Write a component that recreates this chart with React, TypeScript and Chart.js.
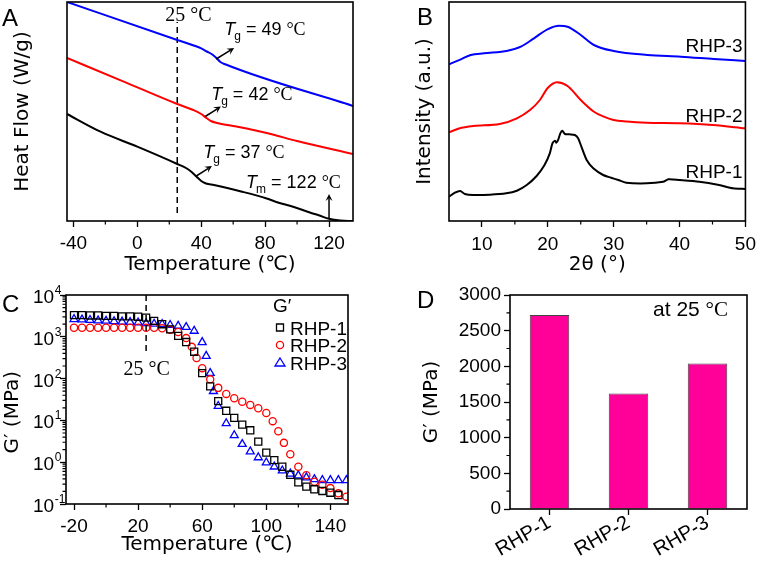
import { useEffect, useRef } from "react";
import { Chart, registerables } from "chart.js";

Chart.register(...registerables);

const SANS = '"Liberation Sans", Arial, sans-serif';
const TITLE = '"DejaVu Sans", sans-serif';
const SERIF = '"Liberation Serif", "Times New Roman", serif';

// ---------------- Panel A : DSC heat flow ----------------
const dscTempRHP3 = [-44, 25, 40, 43.5, 46.5, 49, 52, 55, 135];
const dscFlowRHP3 = [21.9, 18.1, 17.26, 16.95, 16.7, 16.37, 15.9, 15.67, 11.5];
const dscTempRHP2 = [-44, -10, 25, 35, 40, 43, 46, 50, 60, 81, 100, 135];
const dscFlowRHP2 = [16.3, 14.04, 11.7, 11.1, 10.7, 10.33, 10.0, 9.8, 9.5, 8.8, 8.0, 6.7];
const dscTempRHP1 = [-44, -23, 0, 25, 31, 34, 37, 40, 43, 48, 65, 81, 88, 98, 108, 114, 120, 127, 135];
const dscFlowRHP1 = [10.7, 8.93, 7.43, 5.7, 5.25, 4.9, 4.45, 4.0, 3.75, 3.6, 2.95, 2.25, 1.85, 1.4, 0.85, 0.55, 0.22, 0.05, 0];
const dscMarkerT = [25, 25];
const dscMarkerY = [0.8, 19.9];
const dscTicksMinor = [-20, 20, 60, 100];

// ---------------- Panel B : XRD ----------------
const xrdAngle3 = [5, 6.8, 8.3, 10.3, 13.9, 15.9, 17.9, 19.95, 21.7, 23, 25, 27, 30, 35.1, 40.2, 45.2, 50];
const xrdInt3 = [156.7, 161.7, 166, 167.7, 170.3, 174.3, 182.7, 191.7, 195.3, 194.3, 186, 176, 170, 166, 164.3, 162, 160];
const xrdAngle2 = [5, 6.5, 8.7, 12.7, 15.3, 17.3, 18.8, 19.95, 21.4, 23, 25, 27, 28.5, 30, 32, 35, 40, 45, 50];
const xrdInt2 = [88.7, 92.5, 95, 97, 102.7, 111, 121, 132.7, 138.7, 135, 121, 109.3, 104.3, 101, 99.5, 98.3, 97.7, 96, 92.7];
const xrdAngle1 = [5, 5.9, 6.7, 7.4, 8.7, 11.2, 13.7, 15.3, 16.8, 18.3, 19.5, 20.3, 20.7, 21.1, 21.3, 21.6, 21.9, 22.2, 22.6, 23.3, 24.1, 24.6, 25.1, 25.9, 26.9, 28.4, 29.6, 30.7, 31.9, 35, 37.5, 38.3, 40, 43, 46, 48.1, 50];
const xrdInt1 = [24.3, 28.3, 30, 27, 26, 26.3, 27.7, 30.3, 36, 45, 56, 67.7, 77.7, 80.3, 78.3, 81.7, 87.7, 90.3, 87, 86.7, 86, 82.7, 74.3, 61, 52.7, 46, 43.3, 41, 38.3, 37.7, 39.3, 41.7, 41, 39.3, 36, 32.7, 32];
const xrdLabels = ["RHP-3", "RHP-2", "RHP-1"];
const xrdLabelY = [169.3, 99.3, 43];
const xrdTicksMinor = [15, 25, 35, 45];

// ---------------- Panel C : G' vs temperature ----------------
const cTemp1 = [-20, -15, -10, -5, 0, 5, 10, 15, 20, 25, 30, 35, 40, 45, 50, 55, 60, 65, 70, 75, 80, 85, 90, 95, 100, 105, 110, 115, 120, 125, 130, 135, 140, 145];
const cG1 = [3310, 3310, 3240, 3240, 3160, 3160, 3090, 3090, 3020, 2880, 2400, 2000, 1510, 1050, 750, 440, 135, 65, 29, 17, 11.5, 7.9, 5.8, 3.1, 1.7, 1.12, 0.78, 0.5, 0.33, 0.26, 0.225, 0.205, 0.186, 0.164];
const cTemp2 = [-20, -15, -10, -5, 0, 5, 10, 15, 20, 25, 30, 35, 40, 45, 50, 53.5, 56.5, 60, 65, 70, 75, 80, 85, 90, 95, 100, 104, 107.5, 111, 115, 120, 125, 130, 135, 140, 145, 150];
const cG2 = [1650, 1650, 1650, 1650, 1650, 1650, 1650, 1650, 1650, 1650, 1650, 1600, 1480, 1300, 930, 575, 310, 178, 96, 60, 43, 34, 28, 23.5, 19.6, 15, 9.6, 5.5, 2.9, 1.55, 0.78, 0.49, 0.34, 0.29, 0.24, 0.18, 0.15];
const cTemp3 = [-20, -15, -10, -5, 0, 5, 10, 15, 20, 25, 30, 35, 40, 45, 50, 55, 60, 62.5, 65, 67, 70, 75, 80, 85, 90, 95, 100, 105, 110, 115, 120, 125, 130, 135, 140, 145, 150];
const cG3 = [2630, 2570, 2510, 2450, 2400, 2340, 2290, 2240, 2190, 2090, 2040, 2000, 1900, 1820, 1700, 1380, 740, 347, 135, 50, 22, 8.5, 4.4, 2.7, 1.8, 1.3, 0.98, 0.78, 0.63, 0.53, 0.48, 0.43, 0.39, 0.37, 0.37, 0.37, 0.37];
const cSeries = ["RHP-1", "RHP-2", "RHP-3"];
const cMarkerT = [25, 25];
const cMarkerG = [10000, 410];
const cDecades = [-1, 0, 1, 2, 3, 4];
const cTicksMinor = [0, 40, 80, 120];

// ---------------- Panel D : G' at 25 °C ----------------
const dLabels = ["RHP-1", "RHP-2", "RHP-3"];
const dG = [2720, 1620, 2040];
const dTicksMinor = [250, 750, 1250, 1750, 2250, 2750];

// ---------------- helpers ----------------
const zip = (xs: number[], ys: number[]) => xs.map((x, i) => ({ x, y: ys[i] }));
const tickFont = { family: SANS, size: 19 };
const titleFont = { family: TITLE, size: 20 };

function baseOptions(pad: any) {
  return {
    animation: false,
    responsive: false,
    maintainAspectRatio: false,
    events: [],
    layout: { padding: pad, autoPadding: false },
    plugins: { legend: { display: false }, tooltip: { enabled: false } },
  };
}

function tickGrid(isMajor: (v: number) => boolean) {
  return {
    display: true,
    drawOnChartArea: false,
    drawTicks: true,
    tickLength: 6,
    tickWidth: 1.3,
    tickColor: (c: any) => (c.tick && isMajor(c.tick.value) ? "#000" : "rgba(0,0,0,0)"),
  };
}

const framePlugin = {
  id: "frame",
  afterDraw(chart: any) {
    const { ctx, chartArea: a } = chart;
    ctx.save();
    ctx.strokeStyle = "#000";
    ctx.lineWidth = 1.6;
    ctx.strokeRect(a.left, a.top, a.right - a.left, a.bottom - a.top);
    ctx.restore();
  },
};

function minorTicks(chart: any, axisId: string, values: number[], len = 3.5) {
  const s = chart.scales[axisId];
  const a = chart.chartArea;
  const ctx = chart.ctx;
  ctx.save();
  ctx.strokeStyle = "#000";
  ctx.lineWidth = 1.2;
  ctx.beginPath();
  for (const v of values) {
    const p = s.getPixelForValue(v);
    if (s.isHorizontal()) {
      ctx.moveTo(p, a.bottom);
      ctx.lineTo(p, a.bottom + len);
    } else {
      ctx.moveTo(a.left, p);
      ctx.lineTo(a.left - len, p);
    }
  }
  ctx.stroke();
  ctx.restore();
}

function letter(ctx: any, s: string, x: number, y: number) {
  ctx.save();
  ctx.fillStyle = "#000";
  ctx.font = `24px ${SANS}`;
  ctx.textAlign = "left";
  ctx.textBaseline = "alphabetic";
  ctx.fillText(s, x, y);
  ctx.restore();
}

function text(ctx: any, s: string, x: number, y: number, font: string, align = "left") {
  ctx.save();
  ctx.fillStyle = "#000";
  ctx.font = font;
  ctx.textAlign = align;
  ctx.textBaseline = "alphabetic";
  ctx.fillText(s, x, y);
  ctx.restore();
}

// "25 °C" style label: sans number + serif degree sign
function degLabel(ctx: any, num: string, x: number, y: number, size: number, align: "left" | "right" | "center") {
  ctx.save();
  ctx.fillStyle = "#000";
  ctx.textBaseline = "alphabetic";
  ctx.textAlign = "left";
  ctx.font = `${size}px ${SERIF}`;
  const w2 = ctx.measureText("°C").width;
  ctx.font = `${size}px ${SANS}`;
  const w1 = ctx.measureText(num).width;
  let x0 = x;
  if (align === "right") x0 = x - w1 - w2;
  if (align === "center") x0 = x - (w1 + w2) / 2;
  ctx.fillText(num, x0, y);
  ctx.font = `${size}px ${SERIF}`;
  ctx.fillText("°C", x0 + w1, y);
  ctx.restore();
}

function serifDeg(ctx: any, num: string, x: number, y: number, size: number, align: "left" | "center") {
  ctx.save();
  ctx.fillStyle = "#000";
  ctx.textBaseline = "alphabetic";
  ctx.font = `${size}px ${SERIF}`;
  ctx.textAlign = align;
  ctx.fillText(num + "°C", x, y);
  ctx.restore();
}

function tLabel(ctx: any, x: number, y: number, sub: string, rest: string) {
  ctx.save();
  ctx.fillStyle = "#000";
  ctx.textBaseline = "alphabetic";
  ctx.textAlign = "left";
  ctx.font = `italic 18px ${SANS}`;
  ctx.fillText("T", x, y);
  let cx = x + ctx.measureText("T").width - 1;
  ctx.font = `12px ${SANS}`;
  ctx.fillText(sub, cx, y + 5);
  cx += ctx.measureText(sub).width + 5;
  ctx.font = `18px ${SANS}`;
  ctx.fillText(rest, cx, y);
  cx += ctx.measureText(rest).width;
  ctx.font = `18px ${SERIF}`;
  ctx.fillText("°C", cx, y);
  ctx.restore();
}

function arrow(ctx: any, x1: number, y1: number, x2: number, y2: number) {
  const ang = Math.atan2(y2 - y1, x2 - x1);
  const c = Math.cos(ang), s = Math.sin(ang);
  const h = 7, w = 3.5;
  ctx.save();
  ctx.strokeStyle = "#000";
  ctx.fillStyle = "#000";
  ctx.lineWidth = 1.5;
  ctx.beginPath();
  ctx.moveTo(x1, y1);
  ctx.lineTo(x2 - h * 0.6 * c, y2 - h * 0.6 * s);
  ctx.stroke();
  ctx.beginPath();
  ctx.moveTo(x2, y2);
  ctx.lineTo(x2 - h * c + w * s, y2 - h * s - w * c);
  ctx.lineTo(x2 - h * 0.6 * c, y2 - h * 0.6 * s);
  ctx.lineTo(x2 - h * c - w * s, y2 - h * s + w * c);
  ctx.closePath();
  ctx.fill();
  ctx.restore();
}

function lineDs(xs: number[], ys: number[], color: string) {
  return {
    data: zip(xs, ys),
    borderColor: color,
    backgroundColor: color,
    borderWidth: 2,
    pointRadius: 0,
    cubicInterpolationMode: "monotone",
    fill: false,
  };
}

// ---------------- configs ----------------
function makeA(): any {
  const annot = {
    id: "annotA",
    afterDraw(chart: any) {
      const { ctx } = chart;
      const X = (v: number) => chart.scales.x.getPixelForValue(v);
      const Y = (v: number) => chart.scales.y.getPixelForValue(v);
      minorTicks(chart, "x", dscTicksMinor);
      serifDeg(ctx, "25 ", X(17.5), Y(20.0), 20, "left");
      tLabel(ctx, X(54.4), Y(18.6), "g", "= 49 ");
      arrow(ctx, X(49.4), Y(16.2), X(60.6), Y(17.3));
      tLabel(ctx, X(46.25), Y(12.1), "g", "= 42 ");
      arrow(ctx, X(42.5), Y(10.45), X(52.3), Y(11.45));
      tLabel(ctx, X(41.25), Y(6.3), "g", "= 37 ");
      arrow(ctx, X(36.9), Y(4.5), X(46.7), Y(5.5));
      tLabel(ctx, X(68.1), Y(3.3), "m", "= 122 ");
      arrow(ctx, X(120), Y(0.25), X(120), Y(2.7));
      letter(ctx, "A", 2, 26);
    },
  };
  return {
    type: "line",
    data: {
      datasets: [
        lineDs(dscTempRHP3, dscFlowRHP3, "#0000ff"),
        lineDs(dscTempRHP2, dscFlowRHP2, "#ff0000"),
        lineDs(dscTempRHP1, dscFlowRHP1, "#000000"),
        { data: zip(dscMarkerT, dscMarkerY), borderColor: "#000", borderWidth: 1.5, borderDash: [6, 4], pointRadius: 0 },
      ],
    },
    options: {
      ...baseOptions({ left: 0, right: 28, top: 2, bottom: 0 }),
      scales: {
        x: {
          type: "linear",
          min: -44,
          max: 135,
          afterFit: (s: any) => { s.height = 59; },
          ticks: {
            stepSize: 20, includeBounds: false, autoSkip: false, maxRotation: 0, padding: 5,
            font: tickFont, color: "#000",
            callback: (v: any) => (Math.round(v) % 40 === 0 ? String(v) : ""),
          },
          grid: tickGrid((v) => Math.round(v) % 40 === 0),
          border: { display: false },
          title: { display: true, text: "Temperature (℃)", font: titleFont, color: "#000", padding: { top: 0, bottom: 3 } },
        },
        y: {
          type: "linear",
          min: 0,
          max: 21.9,
          afterFit: (s: any) => { s.width = 67; },
          ticks: { display: false },
          grid: { display: false },
          border: { display: false },
          title: { display: true, text: "Heat Flow (W/g)", font: titleFont, color: "#000", padding: { top: 11, bottom: 0 } },
        },
      },
    },
    plugins: [framePlugin, annot],
  };
}

function makeB(): any {
  const annot = {
    id: "annotB",
    afterDraw(chart: any) {
      const { ctx } = chart;
      const X = (v: number) => chart.scales.x.getPixelForValue(v);
      const Y = (v: number) => chart.scales.y.getPixelForValue(v);
      minorTicks(chart, "x", xrdTicksMinor);
      xrdLabels.forEach((l, i) => text(ctx, l, X(49.55), Y(xrdLabelY[i]), `19px ${SANS}`, "right"));
      letter(ctx, "B", 36, 25);
    },
  };
  return {
    type: "line",
    data: {
      datasets: [
        lineDs(xrdAngle3, xrdInt3, "#0000ff"),
        lineDs(xrdAngle2, xrdInt2, "#ff0000"),
        { ...lineDs(xrdAngle1, xrdInt1, "#000000"), cubicInterpolationMode: "default", tension: 0.25 },
      ],
    },
    options: {
      ...baseOptions({ left: 0, right: 14, top: 2, bottom: 0 }),
      scales: {
        x: {
          type: "linear",
          min: 5,
          max: 50,
          afterFit: (s: any) => { s.height = 59; },
          ticks: {
            stepSize: 5, autoSkip: false, maxRotation: 0, padding: 6,
            font: tickFont, color: "#000",
            callback: (v: any) => (Math.round(v) % 10 === 0 ? String(v) : ""),
          },
          grid: tickGrid((v) => Math.round(v) % 10 === 0),
          border: { display: false },
          title: { display: true, text: "2θ (°)", font: titleFont, color: "#000", padding: { top: 0, bottom: 3 } },
        },
        y: {
          type: "linear",
          min: 0,
          max: 219,
          afterFit: (s: any) => { s.width = 68; },
          ticks: { display: false },
          grid: { display: false },
          border: { display: false },
          title: { display: true, text: "Intensity (a.u.)", font: titleFont, color: "#000", padding: { top: 32, bottom: 0 } },
        },
      },
    },
    plugins: [framePlugin, annot],
  };
}

function isDecade(v: number) {
  const l = Math.log10(v);
  return Math.abs(l - Math.round(l)) < 1e-6;
}

function makeC(): any {
  const minors: number[] = [];
  for (let e = -1; e < 4; e++) for (let m = 2; m <= 9; m++) minors.push(m * Math.pow(10, e));
  const annot = {
    id: "annotC",
    afterDraw(chart: any) {
      const { ctx, chartArea: a } = chart;
      const X = (v: number) => chart.scales.x.getPixelForValue(v);
      const Y = (v: number) => chart.scales.y.getPixelForValue(v);
      minorTicks(chart, "x", cTicksMinor);
      minorTicks(chart, "y", minors, 3.5);
      // decade tick labels with superscripts
      ctx.save();
      ctx.fillStyle = "#000";
      ctx.textBaseline = "alphabetic";
      ctx.textAlign = "left";
      for (const e of cDecades) {
        const py = Y(Math.pow(10, e));
        const x0 = a.left - 33;
        ctx.font = `19px ${SANS}`;
        ctx.fillText("10", x0, py + 8);
        const w = ctx.measureText("10").width;
        ctx.font = `12px ${SANS}`;
        ctx.fillText(String(e), x0 + w + 0.5, py - 1);
      }
      ctx.restore();
      serifDeg(ctx, "25 ", X(25.3), Y(122), 20, "center");
      // legend
      const lx = a.right - 68;
      text(ctx, "G′", lx - 7, a.top + 17, `19px ${SANS}`);
      const rows = [a.top + 32.5, a.top + 50, a.top + 67.5];
      const colors = ["#000", "#ff0000", "#0000ff"];
      ctx.save();
      ctx.lineWidth = 1.3;
      rows.forEach((ry, i) => {
        ctx.strokeStyle = colors[i];
        ctx.beginPath();
        if (i === 0) ctx.rect(lx - 3.5, ry - 3.5, 7, 7);
        if (i === 1) ctx.arc(lx, ry, 3.6, 0, Math.PI * 2);
        if (i === 2) {
          ctx.moveTo(lx, ry - 4.5);
          ctx.lineTo(lx + 5, ry + 3.5);
          ctx.lineTo(lx - 5, ry + 3.5);
          ctx.closePath();
        }
        ctx.stroke();
      });
      ctx.restore();
      cSeries.forEach((s, i) => text(ctx, s, lx + 10, rows[i] + 7, `19px ${SANS}`));
      letter(ctx, "C", 2, 31.5);
    },
  };
  const pts = (xs: number[], ys: number[], color: string, style: string, r: number) => ({
    data: zip(xs, ys),
    showLine: false,
    pointStyle: style,
    pointRadius: r,
    pointBorderColor: color,
    pointBackgroundColor: "rgba(0,0,0,0)",
    pointBorderWidth: 1.3,
    borderColor: color,
  });
  return {
    type: "scatter",
    data: {
      datasets: [
        { data: zip(cMarkerT, cMarkerG), showLine: true, borderColor: "#000", borderWidth: 1.5, borderDash: [6, 4], pointRadius: 0 },
        pts(cTemp1, cG1, "#000000", "rect", 5),
        pts(cTemp2, cG2, "#ff0000", "circle", 3.6),
        pts(cTemp3, cG3, "#0000ff", "triangle", 4.6),
      ],
    },
    options: {
      ...baseOptions({ left: 0, right: 33, top: 15, bottom: 0 }),
      scales: {
        x: {
          type: "linear",
          min: -25,
          max: 151,
          afterFit: (s: any) => { s.height = 59; },
          ticks: {
            stepSize: 20, includeBounds: false, autoSkip: false, maxRotation: 0, padding: 5,
            font: tickFont, color: "#000",
            callback: (v: any) => ((Math.round(v) + 20) % 40 === 0 ? String(v) : ""),
          },
          grid: tickGrid((v) => (Math.round(v) + 20) % 40 === 0),
          border: { display: false },
          title: { display: true, text: "Temperature (℃)", font: titleFont, color: "#000", padding: { top: 0, bottom: 6 } },
        },
        y: {
          type: "logarithmic",
          min: 0.1,
          max: 10000,
          afterFit: (s: any) => { s.width = 66; },
          ticks: { autoSkip: false, font: tickFont, color: "#000", callback: () => "" },
          grid: tickGrid((v) => isDecade(v)),
          border: { display: false },
          title: { display: true, text: "G′ (MPa)    ", font: titleFont, color: "#000", padding: { top: 1, bottom: 0 } },
        },
      },
    },
    plugins: [framePlugin, annot],
  };
}

function makeD(): any {
  const annot = {
    id: "annotD",
    afterDraw(chart: any) {
      const { ctx, chartArea: a } = chart;
      minorTicks(chart, "y", dTicksMinor);
      degLabel(ctx, "at 25 ", a.right - 19, a.top + 21, 21, "right");
      letter(ctx, "D", 36, 28);
    },
  };
  return {
    type: "bar",
    data: {
      labels: dLabels,
      datasets: [
        {
          data: dG,
          backgroundColor: "#ff0099",
          borderColor: "#444444",
          borderWidth: 1,
          barPercentage: 0.5,
          categoryPercentage: 1.0,
        },
      ],
    },
    options: {
      ...baseOptions({ left: 0, right: 15, top: 15, bottom: 0 }),
      scales: {
        x: {
          type: "category",
          offset: true,
          afterFit: (s: any) => { s.height = 54; },
          ticks: { autoSkip: false, minRotation: 30, maxRotation: 30, padding: -4, font: { family: SANS, size: 20 }, color: "#000" },
          grid: { display: true, offset: false, drawOnChartArea: false, drawTicks: true, tickLength: 6, tickWidth: 1.3, tickColor: "#000" },
          border: { display: false },
        },
        y: {
          type: "linear",
          min: 0,
          max: 3000,
          afterFit: (s: any) => { s.width = 129; },
          ticks: {
            stepSize: 250, maxTicksLimit: 100, autoSkip: false, padding: 3,
            font: tickFont, color: "#000",
            callback: (v: any) => (Math.round(v) % 500 === 0 ? String(v) : ""),
          },
          grid: tickGrid((v) => Math.round(v) % 500 === 0),
          border: { display: false },
          title: { display: true, text: "G′ (MPa)", font: titleFont, color: "#000", padding: { top: 39, bottom: 0 } },
        },
      },
    },
    plugins: [framePlugin, annot],
  };
}

function ChartPanel({ make, left, top, width, height }: { make: () => any; left: number; top: number; width: number; height: number }) {
  const ref = useRef<HTMLCanvasElement>(null);
  useEffect(() => {
    const chart = new Chart(ref.current as HTMLCanvasElement, make());
    return () => chart.destroy();
  }, []);
  return (
    <canvas
      ref={ref}
      width={width}
      height={height}
      style={{ position: "absolute", left, top, width, height, display: "block" }}
    />
  );
}

export default function App() {
  return (
    <div style={{ position: "fixed", left: 0, top: 0, width: 762, height: 563, background: "#fff", overflow: "hidden" }}>
      <ChartPanel make={makeA} left={0} top={0} width={381} height={280} />
      <ChartPanel make={makeB} left={381} top={0} width={381} height={280} />
      <ChartPanel make={makeC} left={0} top={280} width={381} height={283} />
      <ChartPanel make={makeD} left={381} top={280} width={381} height={283} />
    </div>
  );
}
